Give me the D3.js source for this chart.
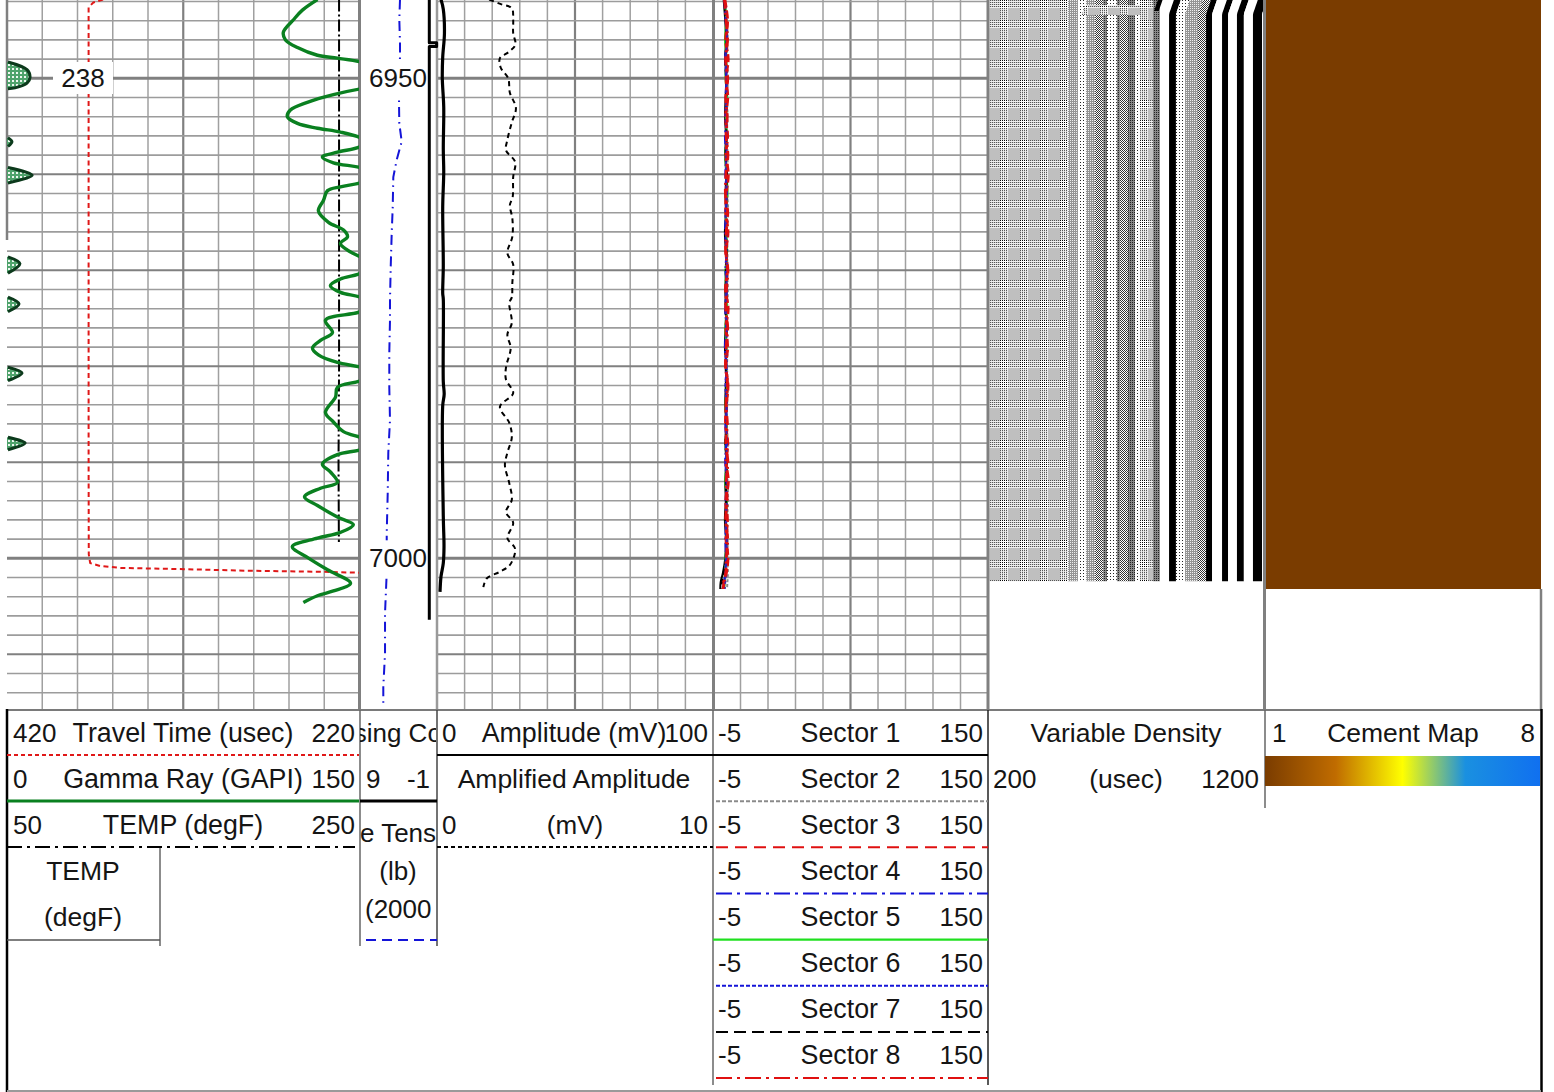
<!DOCTYPE html>
<html><head><meta charset="utf-8">
<script src="https://cdn.jsdelivr.net/npm/d3@7"></script>
<style>html,body{margin:0;background:#fff}svg{display:block}text{font-family:"Liberation Sans",Arial,sans-serif;font-size:26px;fill:#151515}text.t{font-size:26.5px}text.s{font-size:26.8px}</style>
</head><body><script>
// ---------- DATA ----------
const grDepth=[6941.8,6942.9,6943.9,6945.2,6946.0,6946.8,6947.6,6947.9,6948.3,6949.1,6949.9,6950.5,6951.0,6951.1,6951.7,6952.5,6953.3,6954.0,6954.7,6955.2,6955.6,6956.2,6956.6,6957.1,6957.7,6958.2,6958.8,6959.3,6960.1,6960.9,6961.3,6961.7,6962.7,6963.8,6965.0,6965.8,6966.5,6967.2,6967.9,6968.6,6969.3,6970.3,6970.9,6971.6,6972.3,6972.8,6973.5,6974.3,6975.2,6976.5,6977.3,6978.1,6978.8,6979.6,6980.1,6980.7,6981.5,6982.2,6983.2,6984.8,6985.8,6986.8,6987.4,6988.0,6988.7,6989.2,6990.2,6991.0,6992.1,6992.7,6993.6,6994.5,6995.7,6996.5,6997.3,6997.9,6998.8,6999.9,7001.2,7002.6,7003.4,7003.9,7004.6];
const grValue=[132.1,125.7,121.9,117.6,118.5,123.6,132.1,140.6,150.4,158.5,159.8,158.5,153.4,150.4,138.9,127.8,120.6,119.3,123.6,132.1,141.9,150.4,152.1,150.4,140.6,134.2,138.9,150.4,160.7,150.4,141.9,136.4,134.7,132.5,136.8,143.2,144.9,141.9,144.9,150.4,155.5,150.4,141.9,137.6,141.9,150.4,155.1,150.4,135.5,138.5,133.4,130.0,132.5,140.6,150.4,156.4,150.4,140.6,139.8,135.5,138.9,143.2,150.4,157.7,150.4,140.6,134.2,137.6,140.6,133.4,126.6,132.1,140.6,147.4,141.9,132.1,121.4,127.8,136.4,146.2,138.9,132.1,126.1];
const ttDepth=[6941.8,6942.1,6942.6,6950,6970,6990,6999.6,7000.5,7000.8,7001.0,7001.1,7001.3,7001.4,7001.5];
const ttValue=[365.5,371,373.7,373.7,373.7,373.7,373.6,372.8,367.2,355.8,327.4,281.9,242.2,220];
const tempDepth=[6941.8,6960,6980,6990,6998.3];
const tempValue=[238.4,238.4,238.4,238.1,238.3];
const cclDepth=[6941.8,6946.3,6946.3,6946.7,6946.7,7006.4];
const cclValue=[0,0,-0.95,-0.95,0,0];
const tensionDepth=[6941.8,6943.9,6946.3,6947.6,6952.6,6954.7,6956.6,6958.5,6960.3,6963.4,6966.1,6969.6,6973.1,6975.2,6978.6,6982.2,6985.6,6989.0,6993.2,6997.4,7001.5,7005.7,7009.9,7013.4,7015.5];
const tensionValue=[9610,9790,9610,9610,9870,9790,9170,10470,11350,11500,11760,12020,12210,12210,12390,12390,12210,12650,12800,13060,13060,13500,13500,13950,13950];
const ampDepth=[6941.8,6942.8,6945.3,6947.8,6950.0,6953,6957.4,6959.8,6963.4,6969.6,6972.4,6973,6981.6,6982.9,6984.1,6995.6,6998.8,7000.5,7001.9,7003.5];
const ampValue=[1.45,2.28,2.7,2.07,1.92,2.44,2.28,2.44,2.07,2.28,2.07,2.28,2.28,2.6,2.07,2.28,2.54,2.28,1.45,1.09];
const amplDepth=[6941.8,6942.3,6942.7,6943.9,6945.3,6946.5,6947.3,6947.9,6948.9,6950.0,6951.5,6953.1,6954.6,6956.4,6957.5,6958.7,6960.3,6962.4,6963.2,6964.6,6966.5,6968.2,6969.4,6971.3,6972.8,6973.4,6975.5,6976.7,6978.1,6980.1,6981.4,6982.8,6984.2,6985.9,6987.4,6989.0,6990.3,6992.2,6993.9,6995.2,6996.3,6997.9,6999.0,7000.7,7001.4,7002.1,7003.0];
const amplValue=[1.89,2.34,2.71,2.76,2.76,2.84,2.58,2.28,2.31,2.58,2.64,2.86,2.71,2.55,2.50,2.83,2.76,2.74,2.64,2.73,2.73,2.55,2.76,2.73,2.71,2.62,2.71,2.55,2.67,2.50,2.50,2.76,2.28,2.62,2.71,2.55,2.46,2.62,2.71,2.50,2.76,2.55,2.83,2.64,2.28,1.80,1.68];
const sectorDepth=[6941.8,6944,6946,6948,6950,6952,6954,6956,6958,6960,6962,6964,6966,6968,6970,6972,6974,6976,6978,6980,6982,6984,6986,6988,6990,6992,6994,6996,6998,7000,7001.5,7002.5,7003.2];
const sector1=[1.0,1.9,2.4,1.9,2.5,2.1,1.8,2.3,1.9,2.5,2.0,2.3,1.7,2.2,2.5,1.9,2.4,2.1,1.7,2.5,2.2,1.9,2.4,2.0,2.5,1.9,2.2,1.7,2.3,1.9,0.6,-0.7,-0.9];
const sector2=[1.9,2.9,3.3,2.8,3.4,2.9,3.2,2.7,3.3,2.9,3.1,3.5,2.8,3.2,2.9,3.4,3.0,2.7,3.3,2.9,3.4,3.0,2.8,3.3,2.9,3.2,3.5,3.0,3.3,3.1,3.4,3.1,2.9];
const sector3=[1.6,3.2,2.2,3.5,2.4,3.3,2.1,3.2,2.3,3.6,2.5,2.2,3.4,2.4,3.1,2.1,3.5,2.3,3.2,2.2,3.4,2.5,2.1,3.3,2.4,3.6,2.2,3.1,2.4,3.4,2.5,1.2,0.8];
const sector4=[1.4,2.2,2.8,1.9,2.5,2.2,2.9,1.8,2.4,2.0,2.7,2.3,1.9,2.6,2.1,2.8,2.0,2.5,1.8,2.6,2.2,2.9,2.0,2.4,1.9,2.7,2.2,2.5,2.0,2.3,1.9,1.3,1.1];
const sector5=[1.5,2.4,1.8,2.6,2.1,3.0,2.3,2.7,2.0,2.6,3.1,2.2,2.5,2.9,2.1,2.4,2.8,2.0,2.6,2.3,2.9,2.1,2.7,2.2,2.5,2.0,2.8,2.3,2.6,2.1,1.8,1.5,1.3];
const sector6=[1.7,2.5,2.9,2.2,2.7,2.4,2.0,2.9,2.5,2.2,2.8,2.0,2.6,2.3,3.0,2.4,2.1,2.8,2.3,2.7,2.0,2.6,2.4,2.9,2.1,2.5,2.8,2.2,2.7,2.4,2.2,1.9,1.6];
const sector7=[1.2,2.2,2.7,1.9,2.3,2.8,2.0,2.6,2.1,2.9,2.3,2.5,2.0,2.7,2.2,2.6,1.9,2.8,2.3,2.1,2.7,2.2,2.6,2.0,2.8,2.3,2.5,2.1,2.7,2.2,1.0,0.1,-0.2];
const sector8=[1.5,2.4,3.2,2.1,3.3,2.2,3.0,2.4,3.4,2.3,2.0,3.3,2.5,2.1,3.4,2.6,2.2,3.3,2.4,2.1,3.2,2.3,3.1,2.2,3.4,2.4,3.0,2.1,3.3,2.5,2.2,1.0,0.7];
// variable density: band edges in microseconds and their dither tone
const vdlStart=[190,490,526,555,588,617,631,667,678,707,733,751,798,823,856,881,914,961,990,1012,1048,1070,1102,1127,1160,1193];
const vdlEnd  =[490,526,555,588,617,631,667,678,707,733,751,798,823,856,881,914,961,990,1012,1048,1070,1102,1127,1160,1193,1240];
const vdlTone =["plaid","gray","dots","gray","check","dark","dots","dark","check","dark","dots","plaid","dark","white","black","dots","gray","check","black","white","black","white","black","white","black","white"];
// short features right at the top of the variable density image
const patchTop=[6941.8,6942.4];
const patchBottom=[6943.0,6943.4];
const patchStart=[798,540];
const patchEnd=[815,790];
const patchTone=["black","plaid"];
const vdlTopDepth=[6941.8,6942.3,6942.8,6943.3,7002.4];
const vdlTopShift=[18,12,6,0,0];
const cementDepth=[6941.8,7003.2];
const cementValue=[1,1];
const cementStopValue=[1,2.8,4.5,6.1,8];
const cementStopColor=["#7a3c00","#c06c00","#ffff00","#1a90e0","#1070f0"];
const travelLabels=["420","Travel Time (usec)","220"];
const gammaLabels=["0","Gamma Ray (GAPI)","150"];
const tempLabels=["50","TEMP (degF)","250"];
const depthLabels=[6950,7000];
const sectorNames=["Sector 1","Sector 2","Sector 3","Sector 4","Sector 5","Sector 6","Sector 7","Sector 8"];

// ---------- SCALES ----------
const y=d3.scaleLinear().domain([6950,7000]).range([78.3,558.3]);
const xGR=d3.scaleLinear().domain([0,150]).range([7,359.5]);
const xTT=d3.scaleLinear().domain([420,220]).range([7,359.5]);
const xTemp=d3.scaleLinear().domain([50,250]).range([7,359.5]);
const xCCL=d3.scaleLinear().domain([9,-1]).range([360,437]);
const xTen=d3.scaleLinear().domain([20000,0]).range([360,437]);
const xAmp=d3.scaleLinear().domain([0,100]).range([437,713]);
const xAmpl=d3.scaleLinear().domain([0,10]).range([437,713]);
const xSec=d3.scaleLinear().domain([-5,150]).range([713,988]);
const xVdl=d3.scaleLinear().domain([200,1200]).range([988,1264]);
const cmap=d3.scaleLinear().domain(cementStopValue).range(cementStopColor);

const svg=d3.select("body").append("svg").attr("width",1554).attr("height",1092);
const defs=svg.append("defs");
function clip(id,x,yy,w,h){defs.append("clipPath").attr("id",id).append("rect").attr("x",x).attr("y",yy).attr("width",w).attr("height",h);}
clip("c1",7,0,352,709); clip("c2",360,0,77,709); clip("c3",437,0,276,709); clip("c4",713,0,275,709); clip("c5",989.5,0,274.5,709);
clip("h2",360,711,76,240);

// dither tiles
function tile(id,w,h,fn){
  const p=defs.append("pattern").attr("id",id).attr("patternUnits","userSpaceOnUse").attr("width",w).attr("height",h);
  for(let i=0;i<w;i++)for(let j=0;j<h;j++){p.append("rect").attr("x",i).attr("y",j).attr("width",1).attr("height",1).attr("fill",fn(i,j)).attr("shape-rendering","crispEdges");}
}
tile("plaid",20,20,(i,j)=>{const r=j<8,c=i<8;
  if(r&&c)return (i%2==0&&j%2==0)?"#000":"#fff";
  if(r)return j%2==0?(i%2==0?"#555":"#ccc"):"#eee";
  if(c)return i%2==0?(j%2==0?"#555":"#ccc"):"#eee";
  return "#bfbfbf";});
tile("dots",3,3,(i,j)=>(i%3==0&&j%3==0)?"#222":"#fff");
tile("check",2,2,(i,j)=>(i+j)%2==0?"#333":"#fff");
tile("gray",2,2,(i,j)=>(i==0&&j==0)?"#eee":"#949494");
tile("dark",2,2,(i,j)=>(i==0&&j==0)?"#222":"#888");
const toneFill={plaid:"url(#plaid)",dots:"url(#dots)",check:"url(#check)",gray:"url(#gray)",dark:"url(#dark)",white:"#fff",black:"#000"};
const blob=defs.append("pattern").attr("id","blob").attr("patternUnits","userSpaceOnUse").attr("width",4).attr("height",4);
blob.append("rect").attr("width",4).attr("height",4).attr("fill","#4fa36c");
blob.append("rect").attr("width",2).attr("height",2).attr("fill","#eef7f0");

// ---------- GRID ----------
function vgrid(x0,x1){
  const s=d3.scaleLinear().domain([0,10]).range([x0,x1]);
  svg.append("g").selectAll("line").data(d3.range(1,10)).join("line")
    .attr("x1",d=>s(d)).attr("x2",d=>s(d)).attr("y1",0).attr("y2",709)
    .attr("stroke",d=>d==5?"#808080":"#a0a0a0").attr("stroke-width",d=>d==5?2.2:1.5);
}
function hgrid(x0,x1){
  svg.append("g").selectAll("line").data(d3.range(6942,7016,2)).join("line")
    .attr("x1",x0).attr("x2",x1).attr("y1",d=>y(d)).attr("y2",d=>y(d))
    .attr("stroke",d=>d%10==0?"#808080":"#9c9c9c")
    .attr("stroke-width",d=>d%50==0?3:d%10==0?2:1.6);
}
vgrid(7,359.5);vgrid(437,713);vgrid(713,988);
hgrid(7,359.5);hgrid(437,988);

// ---------- CEMENT MAP ----------
svg.append("g").selectAll("rect").data(d3.pairs(cementDepth.map((d,i)=>({d,v:cementValue[i]})))).join("rect")
  .attr("x",1265).attr("width",276).attr("y",p=>y(p[0].d)).attr("height",p=>y(p[1].d)-y(p[0].d)).attr("fill",p=>cmap(p[0].v)).attr("shape-rendering","crispEdges");

// ---------- VARIABLE DENSITY ----------
const shift=d3.scaleLinear().domain(vdlTopDepth).range(vdlTopShift);
const vdlYs=d3.range(6941.8,6944,0.2).concat([7002.4]);
const vg=svg.append("g").attr("clip-path","url(#c5)");
vg.append("g").selectAll("path").data(vdlTone.map((t,i)=>({t,a:vdlStart[i],b:vdlEnd[i]}))).join("path")
  .attr("fill",d=>toneFill[d.t])
  .attr("d",d=>d3.area().y(v=>y(v)).x0(v=>xVdl(d.a+(d.a>840?shift(v):0))).x1(v=>xVdl(d.b+(d.b>840?shift(v):0)))(vdlYs));
vg.append("g").selectAll("path").data(patchTone.map((t,i)=>({t,a:patchStart[i],b:patchEnd[i],d0:patchTop[i],d1:patchBottom[i]}))).join("path")
  .attr("fill",d=>toneFill[d.t])
  .attr("d",d=>d3.area().y(v=>y(v)).x0(v=>xVdl(d.a+shift(v))).x1(v=>xVdl(d.b+shift(v)))([d.d0,d.d1]));

// ---------- TRACK BORDERS ----------
function vline(x,y1,y2,c,w){svg.append("line").attr("x1",x).attr("x2",x).attr("y1",y1).attr("y2",y2).attr("stroke",c).attr("stroke-width",w);}
vline(7,0,240,"#808080",2.5);
vline(359.5,0,710,"#808080",3);
vline(437,0,710,"#9a9a9a",2.5);
vline(713.5,0,710,"#808080",3);
vline(988,0,710,"#808080",3);
vline(1264.5,0,710,"#808080",3);
vline(1541,589,710,"#808080",2.5);

// ---------- CURVES ----------
function series(ds,vs){return ds.map((d,i)=>({d,v:vs[i]}));}
function curve(g,ds,vs,sx,color,w,dash,cv){
  const ln=d3.line().x(p=>sx(p.v)).y(p=>y(p.d)).curve(cv||d3.curveCatmullRom.alpha(0.5));
  return g.append("path").attr("d",ln(series(ds,vs))).attr("fill","none").attr("stroke",color).attr("stroke-width",w).attr("stroke-dasharray",dash||null).attr("stroke-linejoin","round");
}
const t1=svg.append("g").attr("clip-path","url(#c1)");
curve(t1,ttDepth,ttValue,xTT,"#e01818",2,"5,3.5",d3.curveLinear);
// wrapped gamma peaks, re-entering at the left of the track
const gr=series(grDepth,grValue);
t1.append("path").attr("fill","url(#blob)").attr("d",d3.area().defined(p=>p.v>=150).y(p=>y(p.d)).x0(xGR(0)).x1(p=>xGR(p.v-150)).curve(d3.curveCatmullRom)(gr));
t1.append("path").attr("fill","none").attr("stroke","#0c3a1c").attr("stroke-width",3).attr("d",d3.line().defined(p=>p.v>=150).y(p=>y(p.d)).x(p=>xGR(p.v-150)).curve(d3.curveCatmullRom)(gr));
curve(t1,tempDepth,tempValue,xTemp,"#000",2,"12,3,2,3",d3.curveLinear);
curve(t1,grDepth,grValue,xGR,"#0a8020",3.4);

const t2=svg.append("g").attr("clip-path","url(#c2)");
curve(t2,tensionDepth,tensionValue,xTen,"#1414d8",2,"10,5,1.5,5",d3.curveLinear);

// ---------- LABELS ON THE LOG ----------
function txt(s,x,yy,a,g,cls){return (g||svg).append("text").attr("x",x).attr("y",yy).attr("text-anchor",a||"start").attr("class",cls||null).text(s);}
function box(x,yy,w,h){svg.append("rect").attr("x",x).attr("y",yy).attr("width",w).attr("height",h).attr("fill","#fff");}
box(53,62,60,32);
txt(tempValue[0].toFixed(0),83,y(6950)+9,"middle");
depthLabels.forEach(d=>{box(362,y(d)-18,66,36);txt(d,398,y(d)+9,"middle");});
curve(svg,cclDepth,cclValue,xCCL,"#000",3,null,d3.curveLinear);

const t3=svg.append("g").attr("clip-path","url(#c3)");
curve(t3,ampDepth,ampValue,xAmp,"#000",3.2);
curve(t3,amplDepth,amplValue,xAmpl,"#000",2,"5,4");

const t4=svg.append("g").attr("clip-path","url(#c4)");
curve(t4,sectorDepth,sector1,xSec,"#000",2);
curve(t4,sectorDepth,sector2,xSec,"#8a8a8a",2,"3,2");
curve(t4,sectorDepth,sector5,xSec,"#20d020",2.2);
curve(t4,sectorDepth,sector7,xSec,"#000",2,"6,4");
curve(t4,sectorDepth,sector4,xSec,"#1414d8",2.2,"9,3,2,3");
curve(t4,sectorDepth,sector3,xSec,"#e01010",3,"8,3");
curve(t4,sectorDepth,sector6,xSec,"#3a20b0",2,"3,3");
curve(t4,sectorDepth,sector8,xSec,"#e01010",2.8,"9,4,2,4");

// ---------- HEADER ----------
function hline(x1,x2,yy,c,w,dash){svg.append("line").attr("x1",x1).attr("x2",x2).attr("y1",yy).attr("y2",yy).attr("stroke",c).attr("stroke-width",w).attr("stroke-dasharray",dash||null);}
const row=i=>733+46*i, base=i=>row(i)+9;
hline(7,1541,710,"#7a7a7a",2);
vline(7,709,1092,"#000",2.5);
vline(1541.5,709,1092,"#000",2.5);
hline(7,1541,1091,"#9a9a9a",2);
vline(360,710,946,"#666",1.5);
vline(437,710,946,"#444",1.5);
vline(713,710,1085,"#666",1.5);
vline(988,710,1085,"#222",1.5);
vline(1265,710,808,"#666",1.5);
vline(160,848,946,"#666",1.5);
hline(7,160,940,"#555",1.5);

[travelLabels,gammaLabels,tempLabels].forEach((l,i)=>{
  txt(l[0],13,base(i));txt(l[1],183,base(i),"middle",null,"s");txt(l[2],355,base(i),"end");
});
txt("TEMP",83,base(3),"middle",null,"t");txt("(degF)",83,base(4),"middle",null,"t");
hline(7,359,755,"#e01818",1.8,"4,3");
hline(7,359,801,"#0a8020",3);
hline(7,355,847,"#000",1.8,"15,5,3,5");

const h2=svg.append("g").attr("clip-path","url(#h2)");
txt("Casing Collar",398.5,base(0),"middle",h2);
txt("9",366,base(1),null,h2);txt("-1",430,base(1),"end",h2);
txt("Line Tension",398,842,"middle",h2);
txt("(lb)",398,880,"middle",h2);
txt("(2000",365,918,null,h2);
hline(360,437,801,"#000",3);
hline(366,437,940,"#1414d8",2,"10,6");

txt("0",442,base(0));txt("Amplitude (mV)",574,base(0),"middle",null,"s");txt("100",708,base(0),"end");
txt("Amplified Amplitude",574,base(1),"middle",null,"t");
txt("0",442,base(2));txt("(mV)",575,base(2),"middle");txt("10",708,base(2),"end");
hline(437,713,755,"#000",2);
hline(437,713,847,"#000",1.8,"4,3");

sectorNames.forEach((s,i)=>{
  txt("-5",718,base(i));txt(s,850.5,base(i),"middle",null,"s");txt("150",983,base(i),"end");
});
const secLine=[["#000",2,null],["#8a8a8a",2,"4,2"],["#e01010",2,"12,7"],["#1414d8",2,"16,5,3,5"],["#20e020",2.4,null],["#1414d8",2,"4,2"],["#000",2,"12,6"],["#e01010",2,"16,5,3,5"]];
secLine.forEach((s,i)=>hline(i==0||i==4?713:716,988,755+46.15*i,s[0],s[1],s[2]));

txt("Variable Density",1126,base(0),"middle",null,"t");
txt("200",993,base(1));txt("(usec)",1126,base(1),"middle",null,"t");txt("1200",1259,base(1),"end");

txt("1",1272,base(0));txt("Cement Map",1403,base(0),"middle",null,"t");txt("8",1535,base(0),"end");
const lg=defs.append("linearGradient").attr("id","cm");
cementStopValue.forEach((v,i)=>lg.append("stop").attr("offset",(v-1)/7).attr("stop-color",cementStopColor[i]));
svg.append("rect").attr("x",1265).attr("y",756).attr("width",275).attr("height",30).attr("fill","url(#cm)");
</script></body></html>
